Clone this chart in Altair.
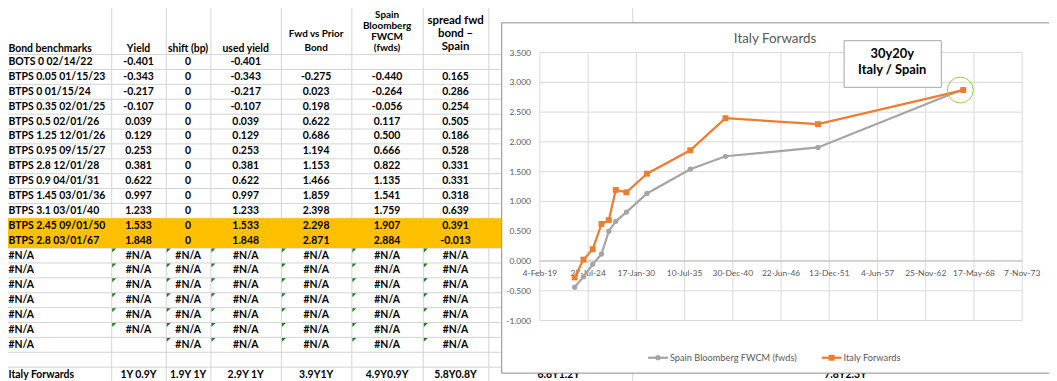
import altair as alt
import pandas as pd

# ---------------------------------------------------------------- data
bond_names = ["BOTS 0 02/14/22", "BTPS 0.05 01/15/23", "BTPS 0 01/15/24", "BTPS 0.35 02/01/25",
              "BTPS 0.5 02/01/26", "BTPS 1.25 12/01/26", "BTPS 0.95 09/15/27", "BTPS 2.8 12/01/28",
              "BTPS 0.9 04/01/31", "BTPS 1.45 03/01/36", "BTPS 3.1 03/01/40", "BTPS 2.45 09/01/50",
              "BTPS 2.8 03/01/67"]
maturities = ["2022-02-14", "2023-01-15", "2024-01-15", "2025-02-01", "2026-02-01", "2026-12-01",
              "2027-09-15", "2028-12-01", "2031-04-01", "2036-03-01", "2040-03-01", "2050-09-01",
              "2067-03-01"]
yields = [-0.401, -0.343, -0.217, -0.107, 0.039, 0.129, 0.253, 0.381, 0.622, 0.997, 1.233, 1.533, 1.848]
shift_bp = [0, 0, 0, 0, 0, 0, 0, 0, 0, 0, 0, 0, 0]
used_yield = [-0.401, -0.343, -0.217, -0.107, 0.039, 0.129, 0.253, 0.381, 0.622, 0.997, 1.233, 1.533, 1.848]
fwd_vs_prior = [None, -0.275, 0.023, 0.198, 0.622, 0.686, 1.194, 1.153, 1.466, 1.859, 2.398, 2.298, 2.871]
spain_fwcm = [None, -0.440, -0.264, -0.056, 0.117, 0.500, 0.666, 0.822, 1.135, 1.541, 1.759, 1.907, 2.884]
spread_fwd = [None, 0.165, 0.286, 0.254, 0.505, 0.186, 0.528, 0.331, 0.331, 0.318, 0.639, 0.391, -0.013]
highlight_rows = [11, 12]
na_block = [
    ["#N/A", "#N/A", "#N/A", "#N/A", "#N/A", "#N/A", "#N/A"],
    ["#N/A", "#N/A", "#N/A", "#N/A", "#N/A", "#N/A", "#N/A"],
    ["#N/A", "#N/A", "#N/A", "#N/A", "#N/A", "#N/A", "#N/A"],
    ["#N/A", "#N/A", "#N/A", "#N/A", "#N/A", "#N/A", "#N/A"],
    ["#N/A", "#N/A", "#N/A", "#N/A", "#N/A", "#N/A", "#N/A"],
    ["#N/A", "#N/A", "#N/A", "#N/A", "#N/A", "#N/A", "#N/A"],
    ["#N/A", "", "#N/A", "#N/A", "#N/A", "#N/A", "#N/A"],
]
forward_labels = ["Italy Forwards", "1Y 0.9Y", "1.9Y 1Y", "2.9Y 1Y", "3.9Y1Y", "4.9Y0.9Y",
                  "5.8Y0.8Y", "6.6Y1.2Y", "7.8Y2.3Y"]
header_text = {
    0: ["Bond benchmarks"],
    1: ["Yield"],
    2: ["shift (bp)"],
    3: ["used yield"],
    4: ["Fwd vs Prior", "Bond"],
    5: ["Spain", "Bloomberg", "FWCM", "(fwds)"],
    6: ["spread fwd", "bond \u2013", "Spain"],
}
x_tick_dates = ["2019-02-04", "2024-07-27", "2030-01-17", "2035-07-10", "2040-12-30", "2046-06-22",
                "2051-12-13", "2057-06-04", "2062-11-25", "2068-05-17", "2073-11-07"]
x_tick_labels = ["4-Feb-19", "27-Jul-24", "17-Jan-30", "10-Jul-35", "30-Dec-40", "22-Jun-46",
                 "13-Dec-51", "4-Jun-57", "25-Nov-62", "17-May-68", "7-Nov-73"]
y_ticks = [-1.0, -0.5, 0.0, 0.5, 1.0, 1.5, 2.0, 2.5, 3.0, 3.5]
series_names = ["Spain Bloomberg FWCM (fwds)", "Italy Forwards"]
series_colors = ["#A5A5A5", "#ED7D31"]
chart_title = "Italy Forwards"
note_lines = ["30y20y", "Italy / Spain"]

# ---------------------------------------------------------------- layout / style
FONT = "Lato"
W, H = 486, 270
PAD = {"left": 536, "top": 43, "right": 27, "bottom": 60}
col_centers = [-535.5, -404.5, -354.5, -296.5, -225.5, -154, -85, 19, 308]
col_edges = [-431.5, -376.5, -331.5, -260.5, -189.5, -117.5, -51.5, 93.5]
header_rows = {0: [-0.9], 1: [-0.9], 2: [-0.9], 3: [-0.9], 4: [-1.9, -0.95],
               5: [-3.167, -2.433, -1.7, -0.967], 6: [-2.73, -1.87, -1.02]}
header_size = {0: 10.5, 1: 10.5, 2: 10.5, 3: 10.5, 4: 10, 5: 10, 6: 11.5}
CELL_SIZE = 10.5
GRID_XLS = "#d4d4d4"
GRID_CHART = "#d9d9d9"
TEXT_GREY = "#595959"

col_scale = alt.Scale(domain=list(range(len(col_centers))), range=col_centers, nice=False, zero=False)
edge_scale = alt.Scale(domain=list(range(1, len(col_edges) + 1)), range=col_edges, nice=False, zero=False)
row_scale = alt.Scale(domain=[0, 21], range=[10, 325], nice=False, zero=False)


def fmt(v):
    return "" if v is None else f"{v:.3f}"


# ---------------------------------------------------------------- table frames
cells = []
for i, name in enumerate(bond_names):
    vals = [name, fmt(yields[i]), str(shift_bp[i]), fmt(used_yield[i]),
            fmt(fwd_vs_prior[i]), fmt(spain_fwcm[i]), fmt(spread_fwd[i])]
    for c, v in enumerate(vals):
        if v:
            cells.append({"col": c, "row": i, "text": v, "size": CELL_SIZE})
na_start = len(bond_names)
tri = []
for k, line in enumerate(na_block):
    for c, v in enumerate(line):
        if v:
            cells.append({"col": c, "row": na_start + k, "text": v, "size": CELL_SIZE})
            if c >= 1:
                tri.append({"edge": c, "row": na_start + k - 0.5})
fwd_row = na_start + len(na_block) + 1
for c, v in enumerate(forward_labels):
    cells.append({"col": c, "row": fwd_row, "text": v, "size": CELL_SIZE})
for c, lines in header_text.items():
    for t, r in zip(lines, header_rows[c]):
        cells.append({"col": c, "row": r, "text": t, "size": header_size[c]})
cells = pd.DataFrame(cells)
left_cells = cells[cells["col"] == 0]
center_cells = cells[cells["col"] > 0]
tri = pd.DataFrame(tri)

h_edges = pd.DataFrame({"row": [r - 0.5 for r in range(fwd_row + 1)]})
v_edges = pd.DataFrame({"edge": list(range(1, len(col_edges) + 1))})
hl = pd.DataFrame({"r0": [min(highlight_rows) - 0.5], "r1": [max(highlight_rows) + 0.5]})

h_grid = alt.Chart(h_edges).mark_rule(color=GRID_XLS, strokeWidth=1).encode(
    y=alt.Y("row:Q", scale=row_scale, axis=None),
    x=alt.value(-540), x2=alt.value(-39))
v_grid = alt.Chart(v_edges).mark_rule(color=GRID_XLS, strokeWidth=1).encode(
    x=alt.X("edge:Q", scale=edge_scale, axis=None),
    y=alt.value(-45), y2=alt.value(335))
highlight = alt.Chart(hl).mark_rect(color="#FFC000").encode(
    y=alt.Y("r0:Q", scale=row_scale, axis=None), y2="r1:Q",
    x=alt.value(-540), x2=alt.value(-39))


def text_layer(df, align):
    return alt.Chart(df).mark_text(align=align, baseline="middle", font=FONT,
                                   fontWeight="bold", color="black").encode(
        x=alt.X("col:Q", scale=col_scale, axis=None),
        y=alt.Y("row:Q", scale=row_scale, axis=None),
        size=alt.Size("size:Q", scale=None, legend=None),
        text="text:N")


left_text = text_layer(left_cells, "left")
center_text = text_layer(center_cells, "center")
triangles = alt.Chart(tri).mark_point(
    shape="M-1,-1L1,-1L-1,1Z", filled=True, color="#1E7B1E", size=16, opacity=1,
    xOffset=2.5, yOffset=2.5).encode(
    x=alt.X("edge:Q", scale=edge_scale, axis=None),
    y=alt.Y("row:Q", scale=row_scale, axis=None))

# ---------------------------------------------------------------- chart
def ms(d):
    return int(pd.Timestamp(d, tz="UTC").value // 10**6)


x_scale = alt.Scale(type="utc", domain=[ms(x_tick_dates[0]), ms(x_tick_dates[-1])], nice=False)
y_scale = alt.Scale(domain=[y_ticks[0], y_ticks[-1]], range=[270.5, 0.5], nice=False, zero=False)

one = pd.DataFrame({"a": [0]})
frame = alt.Chart(one).mark_rect(fill="white", stroke="#8c8c8c", strokeWidth=1).encode(
    x=alt.value(-38.5), x2=alt.value(540), y=alt.value(-29.5), y2=alt.value(323.5))
title = alt.Chart(pd.DataFrame({"t": [chart_title]})).mark_text(
    font=FONT, fontSize=13.5, color=TEXT_GREY, align="center", baseline="middle").encode(
    x=alt.value(237), y=alt.value(-13), text="t:N")

x_df = pd.DataFrame({"date": x_tick_dates, "label": x_tick_labels})
x_grid = alt.Chart(x_df).mark_rule(color=GRID_CHART, strokeWidth=1).encode(
    x=alt.X("date:T", scale=x_scale, axis=None),
    y=alt.value(0.5), y2=alt.value(270.5))
y_df = pd.DataFrame({"v": y_ticks, "label": [f"{v:.3f}" for v in y_ticks]})
y_grid = alt.Chart(y_df).mark_rule(color=GRID_CHART, strokeWidth=1).encode(
    y=alt.Y("v:Q", scale=y_scale, axis=None),
    x=alt.value(0), x2=alt.value(W))
zero_line = alt.Chart(pd.DataFrame({"v": [0.0]})).mark_rule(color="#bfbfbf", strokeWidth=1).encode(
    y=alt.Y("v:Q", scale=y_scale, axis=None), x=alt.value(0), x2=alt.value(W))
x_labels = alt.Chart(x_df).mark_text(font=FONT, fontSize=8.5, color=TEXT_GREY,
                                     align="center", baseline="middle").encode(
    x=alt.X("date:T", scale=x_scale, axis=None), y=alt.value(223), text="label:N")
y_labels = alt.Chart(y_df).mark_text(font=FONT, fontSize=8.5, color=TEXT_GREY,
                                     align="right", baseline="middle").encode(
    y=alt.Y("v:Q", scale=y_scale, axis=None), x=alt.value(-9), text="label:N")

spain_df = pd.DataFrame({"date": maturities[1:], "value": spain_fwcm[1:]})
italy_df = pd.DataFrame({"date": maturities[1:], "value": fwd_vs_prior[1:]})


def series_layers(df, color, shape, size):
    enc = dict(x=alt.X("date:T", scale=x_scale, axis=None),
               y=alt.Y("value:Q", scale=y_scale, axis=None))
    line = alt.Chart(df).mark_line(color=color, strokeWidth=2.25).encode(**enc)
    pts = alt.Chart(df).mark_point(shape=shape, filled=True, color=color, size=size,
                                   opacity=1).encode(**enc)
    return [line, pts]


spain_layers = series_layers(spain_df, series_colors[0], "circle", 28)
italy_layers = series_layers(italy_df, series_colors[1], "square", 36)

last = pd.DataFrame({"date": [maturities[-1]], "value": [fwd_vs_prior[-1]]})
ring = alt.Chart(last).mark_point(shape="circle", filled=False, color="#92D050", size=680,
                                  strokeWidth=1, opacity=1, xOffset=-3).encode(
    x=alt.X("date:T", scale=x_scale, axis=None),
    y=alt.Y("value:Q", scale=y_scale, axis=None))

note_box = alt.Chart(one).mark_rect(fill="white", stroke="#a6a6a6", strokeWidth=1).encode(
    x=alt.value(306.5), x2=alt.value(404.5), y=alt.value(-11.5), y2=alt.value(35.5))
note_text = [
    alt.Chart(pd.DataFrame({"t": [t]})).mark_text(
        font=FONT, fontSize=13, fontWeight="bold", color="black",
        align="center", baseline="middle").encode(x=alt.value(355), y=alt.value(yv), text="t:N")
    for t, yv in zip(note_lines, [1.5, 18])
]

legend_x = [109, 284]
legend_shapes = ["circle", "square"]
legend_sizes = [28, 36]
legend_layers = []
for name, color, lx, shp, sz in zip(series_names, series_colors, legend_x, legend_shapes, legend_sizes):
    d = pd.DataFrame({"t": [name]})
    legend_layers.append(alt.Chart(d).mark_rule(color=color, strokeWidth=2.25).encode(
        x=alt.value(lx), x2=alt.value(lx + 20), y=alt.value(308)))
    legend_layers.append(alt.Chart(d).mark_point(shape=shp, filled=True, color=color, size=sz,
                                                 opacity=1).encode(
        x=alt.value(lx + 10), y=alt.value(308)))
    legend_layers.append(alt.Chart(d).mark_text(font=FONT, fontSize=9.3, color=TEXT_GREY,
                                                align="left", baseline="middle").encode(
        x=alt.value(lx + 22), y=alt.value(308), text="t:N"))

chart_group = alt.layer(frame, title, x_grid, y_grid, zero_line, x_labels, y_labels,
                        *spain_layers, *italy_layers, ring, note_box, *note_text, *legend_layers)

chart = alt.layer(h_grid, v_grid, highlight, left_text, center_text, triangles, chart_group).resolve_scale(
    x="independent", y="independent"
).properties(
    width=W, height=H,
    autosize=alt.AutoSizeParams(type="none"),
    padding=PAD,
    background="white",
).configure_view(stroke=None)

chart.save("out.html", embed_options={"renderer": "svg", "actions": False})
